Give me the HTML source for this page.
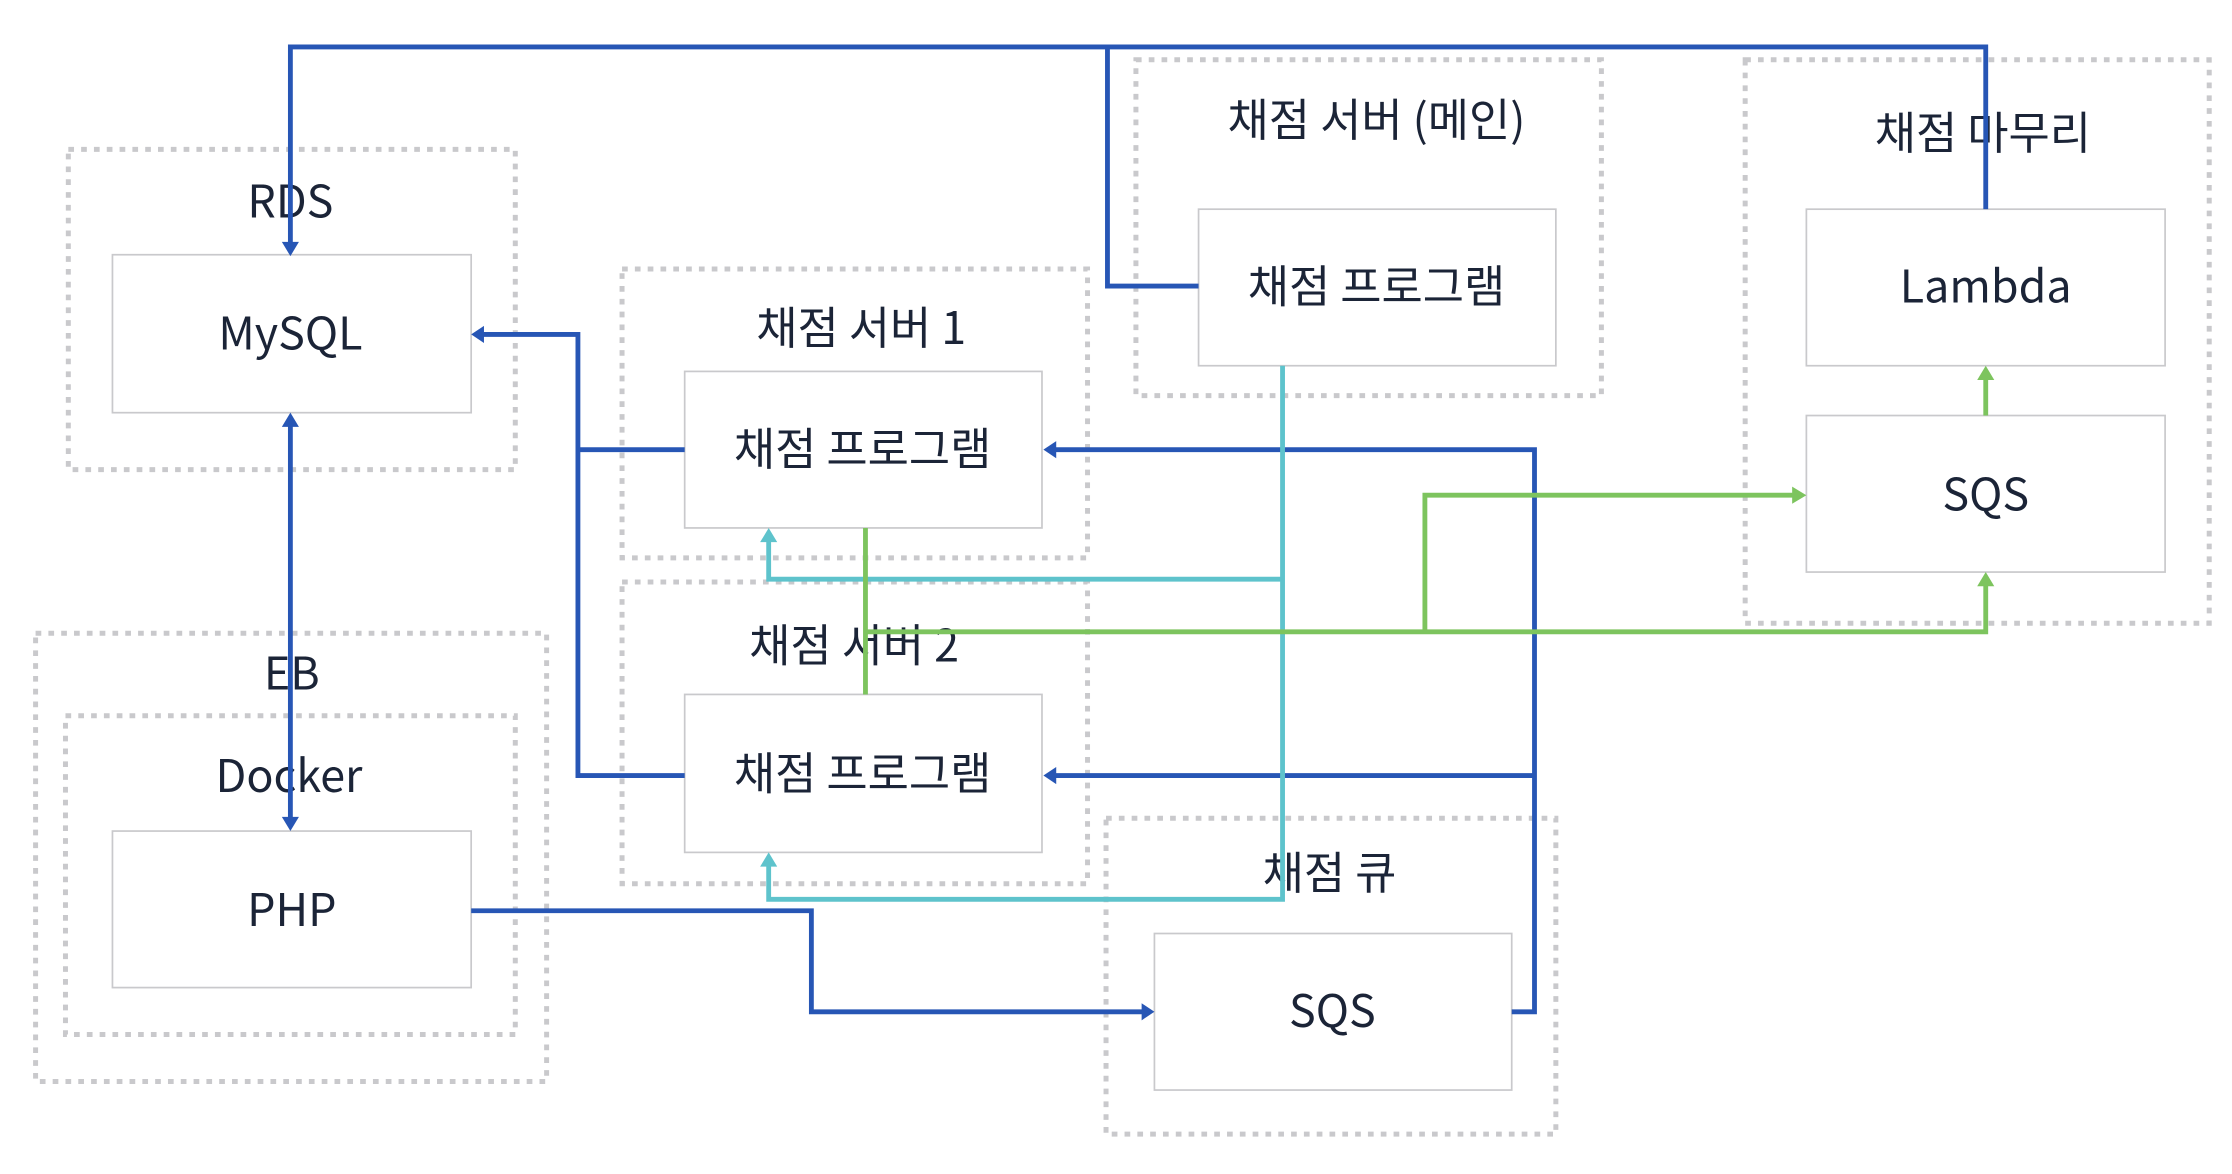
<!DOCTYPE html>
<html><head><meta charset="utf-8"><style>
html,body{margin:0;padding:0;background:#fff;width:2232px;height:1174px;overflow:hidden}
svg{display:block}
text{font-family:"Noto Sans CJK KR","Liberation Sans",sans-serif;font-size:31.5px;fill:#1b2437;text-anchor:middle;dominant-baseline:central}
.g{fill:none;stroke:#c9c9cc;stroke-width:3.5;stroke-dasharray:4 5}
.b{fill:#fff;stroke:#c9c9cc;stroke-width:1.2}
.bl{fill:none;stroke:#2756b5;stroke-width:3.4}
.cy{fill:none;stroke:#5ec3cc;stroke-width:3.4}
.gr{fill:none;stroke:#7dc45e;stroke-width:3.4}
</style></head><body>
<svg width="2232" height="1174" viewBox="0 0 1568 825" preserveAspectRatio="none">
<rect class="g" x="48" y="105" width="314" height="225"/>
<rect class="g" x="25" y="445" width="359" height="315"/>
<rect class="g" x="46" y="503" width="316" height="224"/>
<rect class="g" x="437" y="189" width="327" height="203"/>
<rect class="g" x="437" y="409" width="327" height="212"/>
<rect class="g" x="798" y="42" width="327" height="236"/>
<rect class="g" x="1226" y="42" width="326" height="396"/>
<rect class="g" x="777" y="575" width="316" height="222"/>
<rect class="b" x="79" y="179" width="252" height="111"/>
<rect class="b" x="79" y="584" width="252" height="110"/>
<rect class="b" x="481" y="261" width="251" height="110"/>
<rect class="b" x="481" y="488" width="251" height="111"/>
<rect class="b" x="842" y="147" width="251" height="110"/>
<rect class="b" x="1269" y="147" width="252" height="110"/>
<rect class="b" x="1269" y="292" width="252" height="110"/>
<rect class="b" x="811" y="656" width="251" height="110"/>
<text x="204" y="139">RDS</text>
<text x="204" y="232">MySQL</text>
<text x="205" y="471">EB</text>
<text x="203" y="543">Docker</text>
<text x="205" y="637">PHP</text>
<text x="605" y="228">채점 서버 1</text>
<text x="606" y="313">채점 프로그램</text>
<text x="600" y="451">채점 서버 2</text>
<text x="606" y="541">채점 프로그램</text>
<text x="967" y="82">채점 서버 (메인)</text>
<text x="967" y="199">채점 프로그램</text>
<text x="1393" y="91">채점 마무리</text>
<text x="1395" y="199">Lambda</text>
<text x="1395" y="345">SQS</text>
<text x="934" y="611">채점 큐</text>
<text x="936" y="708">SQS</text>
<polyline class="bl" points="1395,147 1395,33 204,33 204,172"/>
<polyline class="bl" points="842,201 778,201 778,33"/>
<polyline class="bl" points="481,316 406,316"/>
<polyline class="bl" points="481,545 406,545 406,235 338,235"/>
<line class="bl" x1="204" y1="298" x2="204" y2="576"/>
<polyline class="bl" points="331,640 570,640 570,711 804,711"/>
<polyline class="bl" points="1062,711 1078,711 1078,316 740,316"/>
<polyline class="bl" points="1078,545 740,545"/>
<g fill="#2756b5">
<polygon points="198,170 210,170 204,180"/>
<polygon points="340,229 340,241 331,235"/>
<polygon points="198,300 210,300 204,290"/>
<polygon points="198,574 210,574 204,584"/>
<polygon points="802,705 802,717 811,711"/>
<polygon points="742,310 742,322 733,316"/>
<polygon points="742,539 742,551 733,545"/>
</g>
<polyline class="cy" points="901,257 901,632 540,632 540,607"/>
<polyline class="cy" points="901,407 540,407 540,379"/>
<g fill="#5ec3cc">
<polygon points="534,381 546,381 540,371"/>
<polygon points="534,609 546,609 540,599"/>
</g>
<line class="gr" x1="608" y1="371" x2="608" y2="488"/>
<polyline class="gr" points="608,444 1395,444 1395,410"/>
<polyline class="gr" points="1001,444 1001,348 1261,348"/>
<line class="gr" x1="1395" y1="292" x2="1395" y2="265"/>
<g fill="#7dc45e">
<polygon points="1389,412 1401,412 1395,402"/>
<polygon points="1259,342 1259,354 1269,348"/>
<polygon points="1389,267 1401,267 1395,257"/>
</g>
</svg>
</body></html>
